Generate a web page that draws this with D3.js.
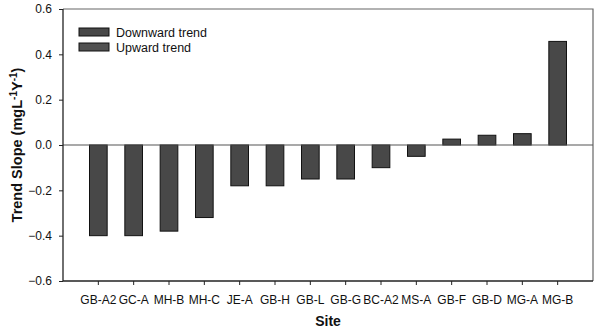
<!DOCTYPE html>
<html>
<head>
<meta charset="utf-8">
<script src="https://cdn.jsdelivr.net/npm/d3@7"></script>
<style>
  body { margin: 0; background: #fff; }
  svg { display: block; font-family: "Liberation Sans", Arial, sans-serif; }
</style>
</head>
<body>
<div id="chart"></div>
<script>
// trend slope per site (mg/L/yr)
var sites = ['GB-A2', 'GC-A', 'MH-B', 'MH-C', 'JE-A', 'GB-H', 'GB-L', 'GB-G', 'BC-A2', 'MS-A', 'GB-F', 'GB-D', 'MG-A', 'MG-B'];
var slopes = [-0.40, -0.40, -0.38, -0.32, -0.18, -0.18, -0.15, -0.15, -0.10, -0.05, 0.026, 0.043, 0.05, 0.457];
var yTicks = [-0.6, -0.4, -0.2, 0.0, 0.2, 0.4, 0.6];
var legendLabels = ['Downward trend', 'Upward trend'];

var width = 600, height = 333;
var margin = {top: 9, right: 7, bottom: 52, left: 63};
var barColor = '#484848';

var svg = d3.select('#chart').append('svg')
    .attr('width', width)
    .attr('height', height);

var x = d3.scaleBand()
    .domain(sites)
    .range([margin.left, width - margin.right])
    .paddingInner(0.5)
    .paddingOuter(0.75);

var y = d3.scaleLinear()
    .domain([-0.6, 0.6])
    .range([height - margin.bottom, margin.top]);

// frame (top + right)
svg.append('path')
    .attr('d', 'M' + margin.left + ',' + margin.top + 'H' + (width - margin.right) + 'V' + (height - margin.bottom))
    .attr('fill', 'none')
    .attr('stroke', '#666')
    .attr('stroke-width', 1.2);

// bars
svg.append('g').selectAll('rect')
    .data(sites)
    .enter()
    .append('rect')
    .attr('x', function (d) { return x(d); })
    .attr('width', x.bandwidth())
    .attr('y', function (d, i) { return y(Math.max(0, slopes[i])); })
    .attr('height', function (d, i) { return Math.abs(y(slopes[i]) - y(0)); })
    .attr('fill', barColor)
    .attr('stroke', '#111')
    .attr('stroke-width', 1);

// zero line
svg.append('line')
    .attr('x1', margin.left)
    .attr('x2', width - margin.right)
    .attr('y1', y(0))
    .attr('y2', y(0))
    .attr('stroke', '#555')
    .attr('stroke-width', 1.2);

var yAxis = svg.append('g')
    .attr('transform', 'translate(' + margin.left + ',0)')
    .call(d3.axisLeft(y).tickValues(yTicks).tickFormat(d3.format('.1f')).tickSize(4).tickPadding(7));

var xAxis = svg.append('g')
    .attr('transform', 'translate(0,' + (height - margin.bottom) + ')')
    .call(d3.axisBottom(x).tickSize(4).tickPadding(10));

[yAxis, xAxis].forEach(function (ax) {
    ax.select('.domain').attr('stroke', '#222').attr('stroke-width', 1.3);
    ax.selectAll('.tick line').attr('stroke', '#222');
    ax.selectAll('.tick text')
        .attr('fill', '#111')
        .style('font-size', '12px')
        .style('font-family', '"Liberation Sans", Arial, sans-serif');
});
yAxis.select('.domain').attr('d', 'M0,' + margin.top + 'V' + (height - margin.bottom));
xAxis.select('.domain').attr('d', 'M' + margin.left + ',0H' + (width - margin.right));

// axis titles
svg.append('text')
    .attr('x', (margin.left + width - margin.right) / 2)
    .attr('y', 326)
    .attr('text-anchor', 'middle')
    .style('font-size', '14px')
    .style('font-weight', 'bold')
    .attr('fill', '#111')
    .text('Site');

var yTitle = svg.append('text')
    .attr('transform', 'translate(22,' + ((margin.top + height - margin.bottom) / 2) + ') rotate(-90)')
    .attr('text-anchor', 'middle')
    .style('font-size', '14.5px')
    .style('font-weight', 'bold')
    .attr('fill', '#111');
yTitle.append('tspan').text('Trend Slope (mgL');
yTitle.append('tspan').attr('dy', -5).style('font-size', '10px').text('-1');
yTitle.append('tspan').attr('dy', 5).text('Y');
yTitle.append('tspan').attr('dy', -5).style('font-size', '10px').text('-1');
yTitle.append('tspan').attr('dy', 5).text(')');

// legend
var legend = svg.append('g')
    .attr('transform', 'translate(79,28)');
var items = legend.selectAll('g')
    .data(legendLabels)
    .enter()
    .append('g')
    .attr('transform', function (d, i) { return 'translate(0,' + (i * 15) + ')'; });
items.append('rect')
    .attr('width', 30)
    .attr('height', 8)
    .attr('fill', function (d, i) { return i === 0 ? barColor : '#525252'; })
    .attr('stroke', '#111');
items.append('text')
    .attr('x', 37)
    .attr('y', 8.5)
    .style('font-size', '12.5px')
    .attr('fill', '#111')
    .text(function (d) { return d; });
</script>
</body>
</html>
